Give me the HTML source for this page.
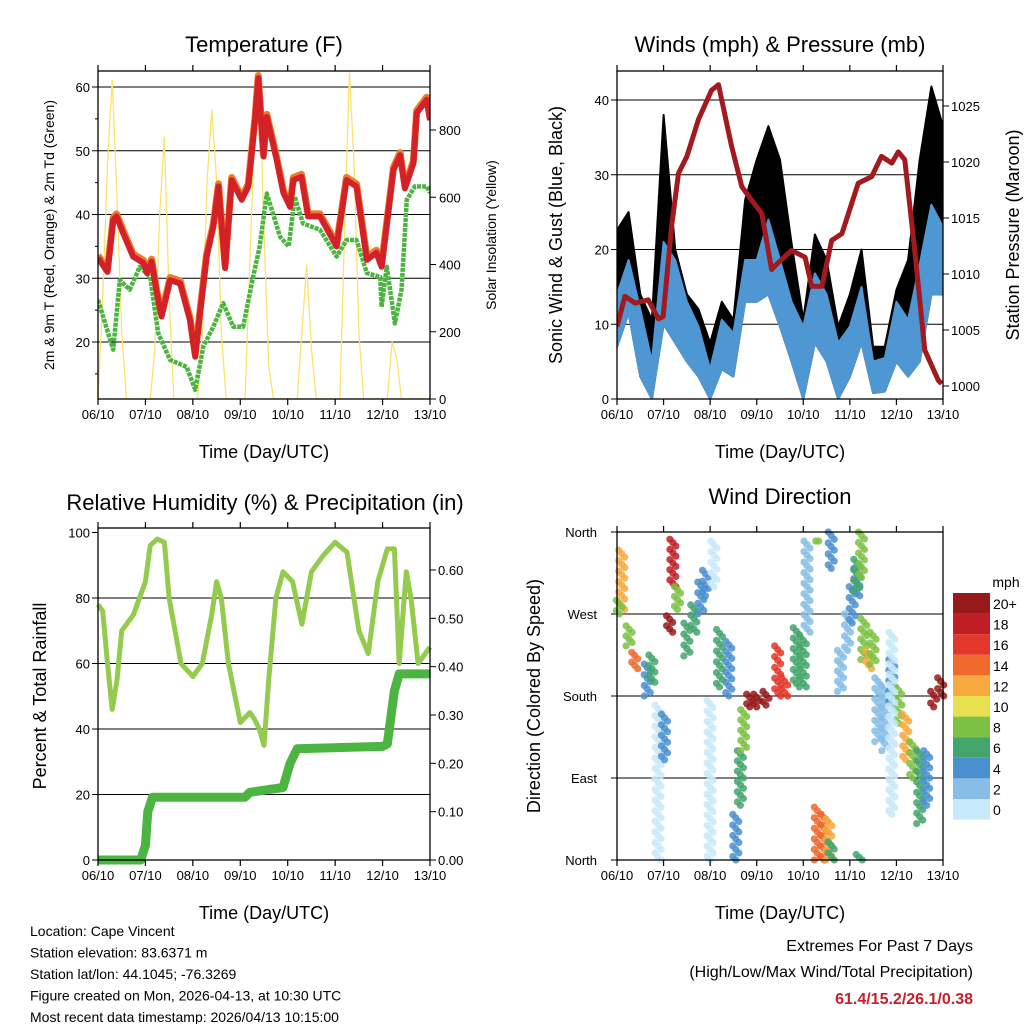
<!DOCTYPE html>
<html><head><meta charset="utf-8"><style>
html,body{margin:0;padding:0;background:#fff;}
svg{display:block;font-family:"Liberation Sans",sans-serif;}
</style></head><body>
<svg id="c" width="1024" height="1024" viewBox="0 0 1024 1024"></svg>
<script>
// ---------- DATA ----------
const tempDays=[0,0.2,0.32,0.39,0.53,0.74,0.96,1.03,1.13,1.24,1.34,1.52,1.73,1.94,2.05,2.15,2.29,2.43,2.54,2.68,2.82,3.03,3.17,3.31,3.38,3.49,3.56,3.77,3.91,4.05,4.12,4.29,4.43,4.68,5.03,5.24,5.45,5.67,5.87,5.98,6.23,6.37,6.47,6.65,6.72,6.93,7];
const tempVals=[33.2,31,39.1,39.7,37.1,33.4,32.4,30.8,32.6,27.7,24,29.7,29.2,23.4,17.7,24.5,33.4,38.1,44.4,31.6,45.4,42.3,44.4,54.8,61.4,49.1,55.3,48.5,43.4,41.2,45.4,45.9,39.7,39.7,35,45.4,44.4,32.9,34,31.8,47,49.3,44.1,48,55.9,58,54.8];
const dewDays=[0,0.32,0.46,0.67,0.88,1.1,1.27,1.52,1.87,2.05,2.22,2.43,2.64,2.85,3.06,3.27,3.41,3.56,3.84,4.02,4.15,4.32,4.68,5.03,5.24,5.45,5.67,5.95,5.98,6.09,6.26,6.4,6.51,6.68,6.93,7];
const dewVals=[26.6,18.8,29.7,28.2,31.8,30.2,21.4,17.2,16.1,12.5,19.3,22.4,26.1,22.4,22.4,30.2,35,43.3,36.5,35,42.8,38.6,37.6,33.4,36,36,30.8,30.2,25.5,31.8,22.9,28.2,42.3,44.4,44.4,43.4];
const solarVals=[0,300,700,950,600,200,0,0,0,0,0,0,150,550,780,300,0,0,0,0,0,0,200,650,860,650,200,0,0,0,0,0,400,800,960,500,100,0,0,0,0,0,0,200,400,150,0,0,0,0,0,0,500,970,700,200,0,0,0,0,0,0,170,120,0,0,0,0,0,0,0];
const presDays=[0,0.17,0.39,0.67,0.89,0.99,1.17,1.32,1.5,1.75,2.03,2.18,2.25,2.46,2.68,2.89,3.11,3.32,3.46,3.75,4.04,4.18,4.4,4.61,4.83,5.18,5.47,5.68,5.9,6.04,6.18,6.4,6.61,6.9,6.97];
const presVals=[1005.3,1008,1007.4,1007.7,1006,1006.2,1014.2,1019,1020.5,1023.8,1026.4,1026.9,1025.5,1021.4,1017.8,1016.6,1015.4,1010.4,1011,1012.1,1011.5,1008.9,1008.9,1013,1013.6,1018.1,1018.7,1020.5,1019.9,1020.9,1020.2,1011.8,1003.2,1000.5,1000.2];
const windDays=[0,0.25,0.5,0.75,1,1.25,1.5,1.75,2,2.25,2.5,2.75,3,3.25,3.5,3.75,4,4.25,4.5,4.75,5,5.25,5.5,5.75,6,6.25,6.5,6.75,7];
const sonicHigh=[14,18.6,12,5,21,18.6,13,9.7,4,10.6,8.8,18.6,18.6,24,18.6,13,9.7,16.8,14,7.5,9.7,15,5,5.5,13,10.6,18,26,23];
const sonicLow=[7,11.5,3,0,10,7.5,5,3,0,4,3,13,13,14,9.7,5,0,7.5,5,0,3,7.5,0.8,1,5,3,5,14,14];
const gustHigh=[22.6,25,14,10.6,38,20,14,12,7.5,13,10.6,26.6,32,36.5,32,20.8,10.6,22,18.6,9.7,14,20,7,7,14.6,18.6,32,41.8,36.5];
const rhDays=[0,0.1,0.2,0.3,0.4,0.5,0.75,1,1.1,1.25,1.4,1.5,1.75,2,2.2,2.4,2.5,2.6,2.75,3,3.2,3.3,3.4,3.5,3.6,3.75,3.9,4.1,4.3,4.4,4.5,4.75,5,5.25,5.5,5.7,5.9,6.1,6.25,6.35,6.5,6.6,6.75,7];
const rhVals=[78,76,60,46,55,70,75,85,96,98,97,80,60,56,60,75,85,80,60,42,45,43,40,35,55,80,88,85,72,80,88,93,97,94,70,63,85,95,95,60,88,80,60,65];
const rainDays=[0,0.9,1.0,1.05,1.15,3.1,3.2,3.9,4.05,4.2,6.0,6.1,6.25,6.35,7];
const rainVals=[0,0,0.03,0.1,0.13,0.13,0.14,0.15,0.2,0.23,0.235,0.24,0.35,0.385,0.385];
// wind direction clusters: day, dir top, dir bottom, speed
const dirDays=[0.1,0.05,0.38,0.26,0.65,0.75,0.88,1.02,1.2,1.3,1.13,1.5,1.65,1.8,1.9,2.08,2.0,2.2,2.4,2.55,2.65,2.72,2.85,3.0,3.2,3.45,3.6,3.85,4.0,4.08,4.3,4.45,4.55,4.6,4.6,4.33,4.8,4.95,5.05,5.15,5.15,5.25,5.2,5.3,5.4,5.5,5.6,5.75,5.9,6.05,6.2,6.35,6.5,6.65,6.8,6.95,5.9];
const dirTop=[340,285,228,257,215,225,170,160,352,300,268,260,280,305,318,350,175,253,240,50,120,165,182,182,185,235,200,255,245,350,58,50,45,20,360,350,230,270,300,320,330,360,6,265,230,250,200,190,220,190,160,130,120,120,185,200,250];
const dirBot=[275,270,210,235,180,195,0,110,300,275,250,224,250,270,290,300,0,190,180,0,60,120,168,168,170,180,180,190,190,250,0,0,0,0,320,350,185,230,260,290,295,310,0,220,210,215,130,120,170,150,110,90,40,60,168,180,50];
const dirSpeed=[12,8,15,8,5,7,1,4,18,9,20,6,7,5,5,1,0,7,4,4,6,9,20,22,22,16,17,7,6,3,14,15,13,6,4,8,2,3,4,5,7,8,7,8,13,8,2,3,4,9,12,9,6,5,20,21,1];
const cbLabels=["20+","18","16","14","12","10","8","6","4","2","0"];
const cbColors=["#961a1a","#bf1e26","#e2372a","#f06a2e","#f7a93f","#e8e04f","#7cc144","#43a56b","#4a8fd0","#87bde6","#c8e9fa"];

// ---------- HELPERS ----------
const NS="http://www.w3.org/2000/svg";
const svg=document.getElementById('c');
function mk(tag,attrs,parent){const e=document.createElementNS(NS,tag);for(const k in attrs)e.setAttribute(k,attrs[k]);(parent||svg).appendChild(e);return e;}
function txt(s,x,y,size,anchor,parent,extra){const t=mk('text',Object.assign({x:x,y:y,'font-size':size,'text-anchor':anchor||'middle',fill:'#000'},extra||{}),parent);t.textContent=s;return t;}
function lin(x0,x1,v0,v1){return v=>x0+(v-v0)/(v1-v0)*(x1-x0);}
function path(xs,ys,fx,fy){return xs.map((d,i)=>(i?'L':'M')+fx(d).toFixed(1)+','+fy(ys[i]).toFixed(1)).join('');}
const dayLabels=["06/10","07/10","08/10","09/10","10/10","11/10","12/10","13/10"];
function timeAxis(g,x0,x1,yb,yt,lblY,fx){
  for(let i=0;i<=7;i++){const x=fx(i);
    mk('line',{x1:x,x2:x,y1:yb,y2:yb+6,stroke:'#000','stroke-width':1.2},g);
    mk('line',{x1:x,x2:x,y1:yt,y2:yt-6,stroke:'#000','stroke-width':1.2},g);
    const t=txt(dayLabels[i],x,yb+20,13,'middle',g);
    
    }
}
function frame(g,x0,y0,x1,y1){const r=mk('rect',{x:x0,y:y0,width:x1-x0,height:y1-y0,fill:'none',stroke:'#000','stroke-width':1.3},g);}
function clip(id,x0,y0,x1,y1){const cp=mk('clipPath',{id:id});mk('rect',{x:x0,y:y0,width:x1-x0,height:y1-y0},cp);}
function rotText(s,x,y,size,g,name){const t=txt(s,x,y,size,'middle',g,{transform:'rotate(-90 '+x+' '+y+')'});return t;}

// ---------- PANEL 1: Temperature ----------
(function(){
  const g=mk('g',{});
  const X0=98,X1=430,Y0=71,Y1=399;
  const fx=lin(X0,X1,0,7), fy=lin(342,87,20,60), fs=lin(399,130,0,800);
  clip('cp1',X0,Y0,X1,Y1);
  const t=txt('Temperature (F)',264,52,22,'middle',g);
  [20,30,40,50,60].forEach(v=>{mk('line',{x1:X0,x2:X1,y1:fy(v),y2:fy(v),stroke:'#000','stroke-width':1},g);mk('line',{x1:X0-6,x2:X0,y1:fy(v),y2:fy(v),stroke:'#000'},g);const l=txt(String(v),X0-8,fy(v)+5,13,'end',g);});
  [15,25,35,45,55].forEach(v=>mk('line',{x1:X0-3,x2:X0,y1:fy(v),y2:fy(v),stroke:'#000'},g));
  [0,200,400,600,800].forEach(v=>{mk('line',{x1:X1,x2:X1+6,y1:fs(v),y2:fs(v),stroke:'#000'},g);const l=txt(String(v),X1+9,fs(v)+5,13,'start',g);});
  const dg=mk('g',{'clip-path':'url(#cp1)'},g);
  const sd=solarVals.map((v,i)=>i/10);
  const sp=mk('path',{d:path(sd,solarVals,fx,fs),fill:'none',stroke:'#fbe36a','stroke-width':1.3},dg);
  const dp=mk('path',{d:path(dewDays,dewVals,fx,fy),fill:'none',stroke:'#4cb542','stroke-width':4.5,'stroke-linejoin':'round','stroke-dasharray':'4 1'},dg);
  const op=mk('path',{d:path(tempDays,tempVals.map(v=>v+0.4),fx,fy),fill:'none',stroke:'#f07a2a','stroke-width':7,'stroke-linejoin':'round'},dg);
  const rp=mk('path',{d:path(tempDays,tempVals,fx,fy),fill:'none',stroke:'#d42128','stroke-width':6,'stroke-linejoin':'round'},dg);
  frame(g,X0,Y0,X1,Y1);timeAxis(g,X0,X1,Y1,Y0,0,fx);
  const a=txt('Time (Day/UTC)',264,458,18,'middle',g);
  rotText('2m & 9m T (Red, Orange) & 2m Td (Green)',54,235,14,g,'y-axis-title');
  rotText('Solar Insolation (Yellow)',496,235,14,g,'y2-axis-title');
})();

// ---------- PANEL 2: Winds ----------
(function(){
  const g=mk('g',{});
  const X0=617,X1=943,Y0=71,Y1=399;
  const fx=lin(X0,X1,0,7), fy=lin(399,100,0,40), fp=lin(386,106,1000,1025);
  clip('cp2',X0,Y0,X1,Y1);
  const t=txt('Winds (mph) & Pressure (mb)',780,52,22,'middle',g);
  [0,10,20,30,40].forEach(v=>{if(v>0)mk('line',{x1:X0,x2:X1,y1:fy(v),y2:fy(v),stroke:'#000','stroke-width':1},g);mk('line',{x1:X0-6,x2:X0,y1:fy(v),y2:fy(v),stroke:'#000'},g);const l=txt(String(v),X0-8,fy(v)+5,13,'end',g);});
  [1000,1005,1010,1015,1020,1025].forEach(v=>{mk('line',{x1:X1,x2:X1+6,y1:fp(v),y2:fp(v),stroke:'#000'},g);const l=txt(String(v),X1+8,fp(v)+5,13,'start',g);});
  const dg=mk('g',{'clip-path':'url(#cp2)'},g);
  const rev=a=>a.slice().reverse();
  const gp=mk('path',{d:path(windDays,gustHigh,fx,fy)+path(rev(windDays),rev(sonicLow),fx,fy).replace('M','L')+'Z',fill:'#000',stroke:'#000','stroke-width':2,'stroke-linejoin':'round'},dg);
  const bp=mk('path',{d:path(windDays,sonicHigh,fx,fy)+path(rev(windDays),rev(sonicLow),fx,fy).replace('M','L')+'Z',fill:'#4f97d2',stroke:'#4f97d2','stroke-width':2,'stroke-linejoin':'round'},dg);
  const pp=mk('path',{d:path(presDays,presVals,fx,fp),fill:'none',stroke:'#a31a1e','stroke-width':5,'stroke-linejoin':'round'},dg);
  frame(g,X0,Y0,X1,Y1);timeAxis(g,X0,X1,Y1,Y0,0,fx);
  const a=txt('Time (Day/UTC)',780,458,18,'middle',g);
  rotText('Sonic Wind & Gust (Blue, Black)',562,235,18,g,'y-axis-title');
  rotText('Station Pressure (Maroon)',1019,235,18,g,'y2-axis-title');
})();

// ---------- PANEL 3: RH ----------
(function(){
  const g=mk('g',{});
  const X0=98,X1=430,Y0=528,Y1=860;
  const fx=lin(X0,X1,0,7), fy=lin(860,532.5,0,100), fr=lin(860,570,0,0.6);
  clip('cp3',X0-5,Y0,X1+5,Y1+5);
  const t=txt('Relative Humidity (%) & Precipitation (in)',265,510,22,'middle',g);
  [0,20,40,60,80,100].forEach(v=>{if(v>0&&v<100)mk('line',{x1:X0,x2:X1,y1:fy(v),y2:fy(v),stroke:'#000','stroke-width':1},g);mk('line',{x1:X0-6,x2:X0,y1:fy(v),y2:fy(v),stroke:'#000'},g);const l=txt(String(v),X0-8,fy(v)+5,13,'end',g);});
  [0,0.1,0.2,0.3,0.4,0.5,0.6].forEach(v=>{mk('line',{x1:X1,x2:X1+6,y1:fr(v),y2:fr(v),stroke:'#000'},g);const l=txt(v.toFixed(2),X1+8,fr(v)+5,13,'start',g);});
  const dg=mk('g',{'clip-path':'url(#cp3)'},g);
  const hp=mk('path',{d:path(rhDays,rhVals,fx,fy),fill:'none',stroke:'#94cb4f','stroke-width':5,'stroke-linejoin':'round'},dg);
  const rp=mk('path',{d:path(rainDays,rainVals,fx,fr),fill:'none',stroke:'#4cb542','stroke-width':9,'stroke-linejoin':'round'},dg);
  frame(g,X0,Y0,X1,Y1);timeAxis(g,X0,X1,Y1,Y0,0,fx);
  const a=txt('Time (Day/UTC)',264,919,18,'middle',g);
  rotText('Percent & Total Rainfall',46,696,18,g,'y-axis-title');
})();

// ---------- PANEL 4: Wind Direction ----------
(function(){
  const g=mk('g',{});
  const X0=617,X1=943,Y0=532,Y1=860;
  const fx=lin(X0,X1,0,7), fy=lin(860,532,0,360);
  clip('cp4',X0-5,Y0-5,X1+5,Y1+5);
  const t=txt('Wind Direction',780,504,22,'middle',g);
  const dl=[[0,'North'],[90,'East'],[180,'South'],[270,'West'],[360,'North']];
  dl.forEach(d=>{mk('line',{x1:X0,x2:X1,y1:fy(d[0]),y2:fy(d[0]),stroke:'#000','stroke-width':1},g);mk('line',{x1:X0-6,x2:X0,y1:fy(d[0]),y2:fy(d[0]),stroke:'#000'},g);const l=txt(d[1],X0-20,fy(d[0])+5,13,'end',g);});
  const dg=mk('g',{'clip-path':'url(#cp4)'},g);
  function col(s){const i=Math.min(10,Math.floor(s/2));return cbColors[10-i];}
  dirDays.forEach((d,i)=>{
    const yt=fy(dirTop[i]),yb=fy(dirBot[i]);
    const n=Math.max(1,Math.round((yb-yt)/3.5));
    for(let k=0;k<=n;k++){
      const c=mk('circle',{cx:(fx(d)+((k%3)-1)*3).toFixed(1),cy:(yt+(yb-yt)*k/n).toFixed(1),r:3.6,fill:col(dirSpeed[i]),'fill-opacity':0.85},dg);
      
      
    }
  });
  frame(g,X0,Y0,X1,Y1);timeAxis(g,X0,X1,Y1,Y0,0,fx);
  const a=txt('Time (Day/UTC)',780,919,18,'middle',g);
  rotText('Direction (Colored By Speed)',540,696,18,g,'y-axis-title');
  const cb=mk('g',{},g);
  const m=txt('mph',1006,587,14,'middle',cb);
  cbColors.forEach((c,i)=>{
    const r=mk('rect',{x:953,y:593+i*20.6,width:37,height:20.6,fill:c},cb);
    
    
    const l=txt(cbLabels[i],993,593+i*20.6+16,14,'start',cb);
    
    
  });
})();

// ---------- FOOTER ----------
const info=["Location: Cape Vincent","Station elevation: 83.6371 m","Station lat/lon: 44.1045; -76.3269","Figure created on Mon, 2026-04-13, at 10:30 UTC","Most recent data timestamp: 2026/04/13 10:15:00"];
info.forEach((s,i)=>{const t=txt(s,30,936+i*21.5,14,'start');});
let e1=txt('Extremes For Past 7 Days',973,951,16,'end');
let e2=txt('(High/Low/Max Wind/Total Precipitation)',973,977,16,'end');
let e3=txt('61.4/15.2/26.1/0.38',973,1004,16,'end',null,{fill:'#c8202a','font-weight':'bold'});
</script>
</body></html>
